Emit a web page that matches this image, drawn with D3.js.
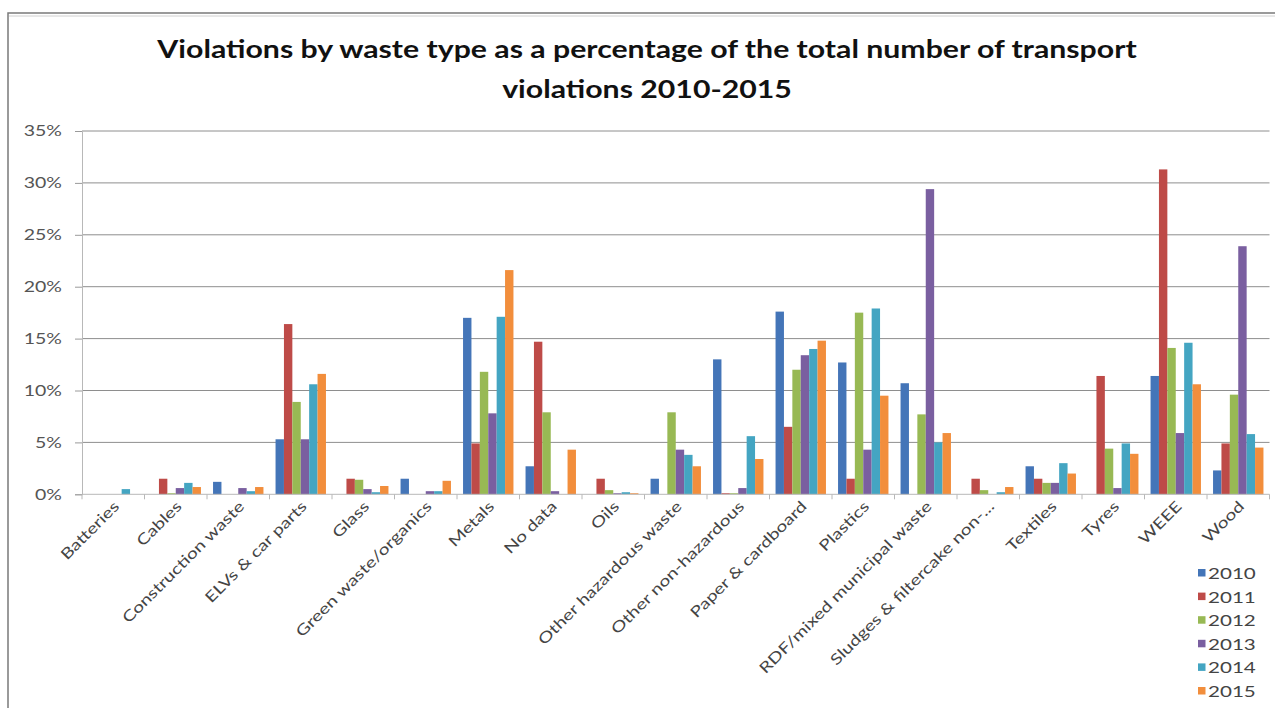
<html>
<head>
  <style>
    body { margin: 0; background: white; font-family: Lato, "Open Sans", sans-serif; }
    svg { display: block; }
  </style>
</head>
<body>
  <svg id="chart"></svg>
  <script src="https://cdn.jsdelivr.net/npm/d3@7"></script>
  <script>
    // 数据
    var categories = ["Batteries", "Cables", "Construction waste", "ELVs & car parts", "Glass",
      "Green waste/organics", "Metals", "No data", "Oils", "Other hazardous waste",
      "Other non-hazardous", "Paper & cardboard", "Plastics", "RDF/mixed municipal waste",
      "Sludges & filtercake non-...", "Textiles", "Tyres", "WEEE", "Wood"];
    var years = ["2010", "2011", "2012", "2013", "2014", "2015"];
    var v2010 = [0, 0, 1.2, 5.3, 0, 1.5, 17.0, 2.7, 0, 1.5, 13.0, 17.6, 12.7, 10.7, 0, 2.7, 0, 11.4, 2.3];
    var v2011 = [0, 1.5, 0, 16.4, 1.5, 0, 4.9, 14.7, 1.5, 0, 0.1, 6.5, 1.5, 0, 1.5, 1.5, 11.4, 31.3, 4.9];
    var v2012 = [0, 0.1, 0, 8.9, 1.4, 0, 11.8, 7.9, 0.4, 7.9, 0.1, 12.0, 17.5, 7.7, 0.4, 1.1, 4.4, 14.1, 9.6];
    var v2013 = [0, 0.6, 0.6, 5.3, 0.5, 0.3, 7.8, 0.3, 0.1, 4.3, 0.6, 13.4, 4.3, 29.4, 0, 1.1, 0.6, 5.9, 23.9];
    var v2014 = [0.5, 1.1, 0.3, 10.6, 0.2, 0.3, 17.1, 0, 0.2, 3.8, 5.6, 14.0, 17.9, 5.0, 0.2, 3.0, 4.9, 14.6, 5.8];
    var v2015 = [0, 0.7, 0.7, 11.6, 0.8, 1.3, 21.6, 4.3, 0.1, 2.7, 3.4, 14.8, 9.5, 5.9, 0.7, 2.0, 3.9, 10.6, 4.5];
    var yTicks = [0, 5, 10, 15, 20, 25, 30, 35];
    var colors = ["#4475b8", "#be4b48", "#98b954", "#7a5fa0", "#44a5c2", "#f28e3c"];

    var width = 1275, height = 708;
    var stretch = 1.3; // 原图文字横向偏宽
    var svg = d3.select("#chart").attr("width", width).attr("height", height);

    // 外框
    svg.append("rect")
      .attr("x", 8).attr("y", 13)
      .attr("width", width + 20).attr("height", height + 20)
      .attr("fill", "none").attr("stroke", "#7a7a7a").attr("stroke-width", 1.5);
    svg.append("line")
      .attr("x1", 9).attr("x2", width).attr("y1", 16).attr("y2", 16)
      .attr("stroke", "#d0d0d0");

    // 标题
    var title = svg.append("text")
      .attr("text-anchor", "middle")
      .attr("font-weight", "bold")
      .attr("font-size", 25)
      .attr("fill", "#111")
      .attr("transform", "translate(647,0) scale(1.21,1)");
    title.append("tspan").attr("x", 0).attr("y", 58)
      .text("Violations by waste type as a percentage of the total number of transport");
    title.append("tspan").attr("x", 0).attr("y", 98)
      .text("violations 2010-2015");

    var series = years.map(function (y, i) {
      return { year: y, values: [v2010, v2011, v2012, v2013, v2014, v2015][i], color: colors[i] };
    });

    // 比例尺
    var x0 = d3.scaleBand().domain(categories).range([82, 1269.5]);
    var x1 = d3.scaleBand().domain(years).range([0, x0.bandwidth()]).paddingOuter(0.72);
    var y = d3.scaleLinear().domain([0, 35]).range([494.3, 131]);

    // 网格线
    svg.append("g").selectAll("line")
      .data(yTicks.slice(1))
      .join("line")
      .attr("x1", 82).attr("x2", 1269.5)
      .attr("y1", d => y(d)).attr("y2", d => y(d))
      .attr("stroke", "#8e8e8e").attr("stroke-width", 1);

    // Y 轴
    var yAxis = d3.axisLeft(y).tickValues(yTicks).tickSize(7).tickPadding(8.4)
      .tickFormat(d => d + "%");
    svg.append("g")
      .attr("transform", "translate(82,0)")
      .call(yAxis)
      .call(g => g.select(".domain").attr("stroke", "#b8b8b8"))
      .call(g => g.selectAll(".tick line").attr("stroke", "#9a9a9a"))
      .call(g => g.selectAll("text")
        .attr("font-size", 15).attr("fill", "#555").attr("font-family", "Lato")
        .attr("transform", "scale(" + stretch + ",1)"));

    // 柱子
    svg.append("g").selectAll("g")
      .data(series)
      .join("g")
      .attr("fill", d => d.color)
      .selectAll("rect")
      .data(d => d.values.map((v, i) => ({ cat: categories[i], year: d.year, value: v })))
      .join("rect")
      .attr("x", d => x0(d.cat) + x1(d.year))
      .attr("width", x1.bandwidth())
      .attr("y", d => y(d.value))
      .attr("height", d => y(0) - y(d.value));

    // X 轴
    var xAxisG = svg.append("g").attr("transform", "translate(0," + y(0) + ")");
    xAxisG.append("line").attr("x1", 82).attr("x2", 1269.5)
      .attr("stroke", "#b8b8b8");
    xAxisG.selectAll(".tk")
      .data(d3.range(categories.length + 1))
      .join("line")
      .attr("class", "tk")
      .attr("x1", i => 82 + i * x0.step()).attr("x2", i => 82 + i * x0.step())
      .attr("y1", 0).attr("y2", 5)
      .attr("stroke", "#b8b8b8");
    xAxisG.selectAll("text")
      .data(categories)
      .join("text")
      .attr("text-anchor", "end")
      .attr("font-size", 15)
      .attr("fill", "#444")
      .attr("transform", d => "translate(" + (x0(d) + x0.bandwidth() / 2 + 7) + ",13) rotate(-45) scale(1.29,1)")
      .text(d => d);

    // 图例
    var legend = svg.append("g").attr("transform", "translate(1198,573)");
    var row = legend.selectAll("g")
      .data(series)
      .join("g")
      .attr("transform", (d, i) => "translate(0," + i * 23.6 + ")");
    row.append("rect")
      .attr("x", 0).attr("y", -4).attr("width", 7.5).attr("height", 7.5)
      .attr("fill", d => d.color);
    row.append("text")
      .attr("transform", "translate(10,6) scale(1.33,1)")
      .attr("font-size", 15.5)
      .attr("fill", "#444")
      .text(d => d.year);
  </script>
</body>
</html>
